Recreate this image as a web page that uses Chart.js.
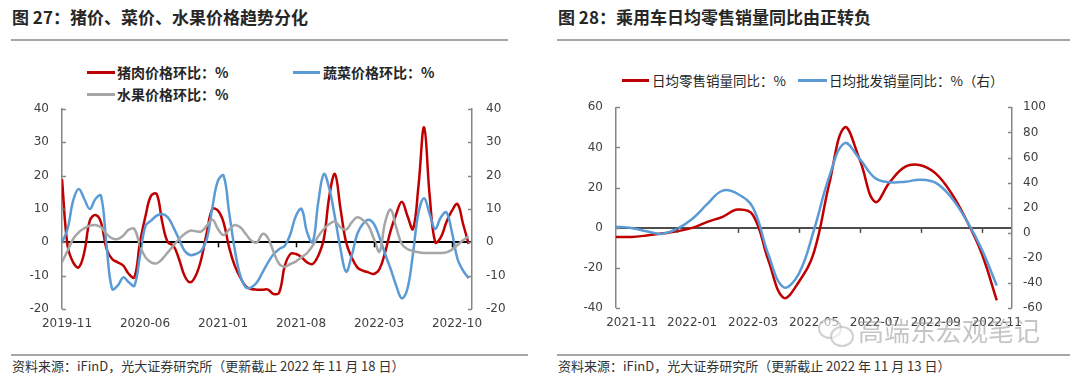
<!DOCTYPE html>
<html><head><meta charset="utf-8">
<script src="https://cdn.jsdelivr.net/npm/chart.js@4.4.1/dist/chart.umd.min.js"></script>
<style>
body{margin:0;width:1080px;height:380px;background:#fff;position:relative;overflow:hidden;font-family:"Noto Sans CJK SC","Noto Sans",sans-serif;color:#222;}
.title{position:absolute;top:7px;font-size:17px;line-height:20px;font-weight:bold;color:#262626;white-space:nowrap;}
.rule{position:absolute;height:2px;background:#a6a6a6;}
.src{position:absolute;top:358px;font-size:13px;line-height:16px;color:#333;white-space:nowrap;}
.leg{position:absolute;white-space:nowrap;color:#262626;}
.leg i{position:absolute;height:3px;top:50%;margin-top:-1.5px;}
.cv{position:absolute;top:100px;width:540px;height:240px;}
.cv canvas{display:block;}
.wm{position:absolute;left:858px;top:315px;font-size:26px;line-height:30px;color:rgba(150,150,150,0.55);white-space:nowrap;}
.ic{position:absolute;border:2px solid rgba(150,150,150,0.45);border-radius:50%;background:rgba(255,255,255,0.6);}
</style></head>
<body>
<div class="title" style="left:12px">图 27：猪价、菜价、水果价格趋势分化</div>
<div class="title" style="left:558px">图 28：乘用车日均零售销量同比由正转负</div>
<div class="rule" style="left:11px;width:497px;top:39px"></div>
<div class="rule" style="left:557px;width:513px;top:39px"></div>
<div id="legL"></div>
<div id="legR"></div>
<div class="cv" style="left:0"><canvas id="c1" width="540" height="240"></canvas></div>
<div class="cv" style="left:540px"><canvas id="c2" width="540" height="240"></canvas></div>
<div class="rule" style="left:11px;width:517px;top:354px"></div>
<div class="rule" style="left:557px;width:513px;top:354px"></div>
<div class="src" style="left:12px">资料来源：iFinD，光大证券研究所（更新截止 2022 年 11 月 18 日）</div>
<div class="src" style="left:558px">资料来源：iFinD，光大证券研究所（更新截止 2022 年 11 月 13 日）</div>
<div class="ic" style="left:818px;top:318px;width:20px;height:17px"></div>
<div class="ic" style="left:830px;top:326px;width:20px;height:17px"></div>
<div class="wm">高端东宏观笔记</div>
<script>
// ---------- Chart 27 data (readings every half month from 2019-11) ----------
const leftMonthLabels = ['2019-11','2020-06','2021-01','2021-08','2022-03','2022-10'];
const leftLabelGap = 7;      // months between shown labels
const leftSampleStep = 0.5;  // months between readings
const porkMoM = [19,-1,-6,-7.5,-3,6.5,8.2,6,-2,-5,-6,-7,-9.5,-10.5,0,8,14,14.5,6,0,
  -1,-5,-10,-12,-10,-5,3,10,9.5,6,-1.5,-7,-10.5,-13.2,-14,-14.2,-14.2,-14.2,-15.5,-15,
  -7,-3.5,-3.5,-4.5,-6,-6.5,-4,1,14,20.5,10,0,-4.5,-7.5,-8.5,-9,-9.5,-8,-3,3.5,
  8.5,12.2,8,4,17,34.5,14,0,1.5,6,9.5,11.5,5.5,-0.5];
const vegMoM = [0,4,12.5,16,13,10,13,14,-1,-14,-13,-10.5,-12,-13,-4,5,6.5,8,8.5,7.5,
  4.5,1,-2.5,-3.8,-3.5,-2.5,1,10.5,18.5,20,9,-2,-10,-13.5,-13.5,-12,-9,-6,-3.5,-2,
  -1,2.5,8,10,3,0,12,20.5,16,7.5,-2,-8.8,-4,2.5,5.5,6.8,5.5,1.5,-3.5,-8,
  -13,-16.8,-14,-3.5,9,13.2,8.5,4,7.5,9,3,-5,-8.5,-10.8];
const fruitMoM = [-6,-2.5,1,3,4.2,5,5.2,4.5,2.5,1.2,1,2,3.8,4,-1,-4.5,-6,-6.3,-5,-3,
  -1,1,2.5,3.5,3.3,3.3,5,6.8,4,2.2,3.8,5.2,4.5,2.5,0.5,0,2.5,1.2,-3,-6.5,
  -7.3,-6.5,-5.7,-4.5,-3.2,-1,1.8,4,5.5,6.2,4.5,3.8,6,7.5,6.7,5,1,-2.8,6,9.8,
  4.5,-0.5,-2,-2.6,-3,-3.2,-3.2,-3.2,-3.2,-3,-2.2,-0.8,0.6,1.8];
const leftNames = ['猪肉价格环比：%','蔬菜价格环比：%','水果价格环比：%'];
const leftColors = ['#C00000','#5B9BD5','#A6A6A6'];

// ---------- Chart 28 data (readings every half month from 2021-11) ----------
const rightMonthLabels = ['2021-11','2022-01','2022-03','2022-05','2022-07','2022-09','2022-11'];
const rightLabelGap = 2;
const rightSampleStep = 0.5;
const retailYoY = [-4.5,-4.5,-3.8,-2.8,-1.7,0,3,5.5,9.1,6.3,-16,-34.7,-26.9,-12,22,50,34,13,23,30.5,31.2,27,17.5,4,-12.5,-36];
const wholesaleYoY = [5,4,1.3,-0.8,3.2,11.1,23.1,33.7,31,20,-17,-43.2,-32.6,2.5,44.8,71.4,58.9,43.8,40.3,40.8,42.4,39.8,28.4,10.3,-12.7,-41.9];
const rightNames = ['日均零售销量同比：%','日均批发销量同比：%（右）'];
const rightColors = ['#C00000','#5B9BD5'];

const toXY = (arr, step) => arr.map((v, i) => ({x: i * step, y: v}));
const tickFont = {family: 'DejaVu Sans', size: 12};
const tickColor = '#404040';
const axisGray = '#868686';
const clear = 'rgba(0,0,0,0)';

// legends (HTML text)
function legend(el, items) {
  document.getElementById(el).innerHTML = items.map(it =>
    `<div class="leg" style="left:${it.x}px;top:${it.y}px;font-size:${it.fs}px;line-height:18px;font-weight:${it.fw};padding-left:${it.pl}px">` +
    `<i style="left:0;width:${it.w}px;background:${it.c}"></i>${it.t}</div>`).join('');
}
legend('legL', [
  {x:87, y:63, fs:14, fw:600, pl:30, w:28, c:leftColors[0], t:leftNames[0]},
  {x:293, y:63, fs:14, fw:600, pl:30, w:27, c:leftColors[1], t:leftNames[1]},
  {x:87, y:85, fs:14, fw:600, pl:30, w:28, c:leftColors[2], t:leftNames[2]},
]);
legend('legR', [
  {x:622, y:71, fs:13.5, fw:400, pl:30, w:27, c:rightColors[0], t:rightNames[0]},
  {x:798, y:71, fs:13.5, fw:400, pl:31, w:29, c:rightColors[1], t:rightNames[1]},
]);

const axisDecor = {
  id: 'axisDecor',
  afterDraw(chart, args, o) {
    const ctx = chart.ctx;
    ctx.save();
    ctx.lineWidth = 1.5;
    ctx.strokeStyle = o.axisColor;
    ['y', 'y2'].forEach(id => {
      const s = chart.scales[id];
      const ax = id === 'y' ? s.right : s.left;
      const dir = id === 'y' ? 1 : -1;
      s.ticks.forEach(t => {
        const py = Math.round(s.getPixelForValue(t.value)) + 0.5;
        ctx.beginPath(); ctx.moveTo(ax, py); ctx.lineTo(ax + dir * 4, py); ctx.stroke();
      });
    });
    const zy = chart.scales.y.getPixelForValue(0);
    ctx.strokeStyle = o.zeroColor;
    o.marks.forEach(v => {
      const px = Math.round(chart.scales.x.getPixelForValue(v)) + 0.5;
      ctx.beginPath(); ctx.moveTo(px, zy); ctx.lineTo(px, zy + 5); ctx.stroke();
    });
    ctx.restore();
  }
};

function yAxis(pos, min, max, step, width, gap, zeroColor) {
  return {
    position: pos, min, max,
    afterFit: s => { s.width = width; },
    ticks: {stepSize: step, color: tickColor, font: tickFont, padding: 0},
    grid: {
      drawTicks: true, tickLength: gap, tickColor: clear,
      drawOnChartArea: !!zeroColor,
      color: c => zeroColor && c.tick && c.tick.value === 0 ? zeroColor : clear,
      lineWidth: c => zeroColor && c.tick && c.tick.value === 0 ? 2 : 0
    },
    border: {display: true, color: axisGray, width: 1.5}
  };
}

function xAxis(labels, gap, first, max, height, pad, labelOffset) {
  return {
    type: 'linear', min: 0, max,
    afterFit: s => { s.height = height; },
    afterBuildTicks: s => { s.ticks = labels.map((_, i) => ({value: first + i * gap})); },
    ticks: {autoSkip: false, maxRotation: 0, color: tickColor, font: tickFont, padding: pad,
      labelOffset, callback: (v, i) => labels[i]},
    grid: {display: false, drawTicks: false},
    border: {display: false}
  };
}

const baseDs = (label, data, color, order, yID) => ({
  label, data, borderColor: color, backgroundColor: color, borderWidth: 2.5,
  pointRadius: 0, tension: 0.4, order, yAxisID: yID, fill: false
});

new Chart(document.getElementById('c1'), {
  type: 'line',
  data: {datasets: [
    baseDs(leftNames[0], toXY(porkMoM, leftSampleStep), leftColors[0], 3, 'y'),
    baseDs(leftNames[1], toXY(vegMoM, leftSampleStep), leftColors[1], 2, 'y'),
    baseDs(leftNames[2], toXY(fruitMoM, leftSampleStep), leftColors[2], 1, 'y'),
  ]},
  options: {
    responsive: false, animation: false,
    layout: {padding: {left: 0, right: 28, top: 9, bottom: 0}},
    scales: {
      x: xAxis(leftMonthLabels, leftLabelGap, 0, 36.8, 31, 8, 5),
      y: yAxis('left', -20, 40, 10, 62, 13, '#000000'),
      y2: yAxis('right', -20, 40, 10, 40, 14, null)
    },
    plugins: {legend: {display: false}, tooltip: {enabled: false},
      axisDecor: {axisColor: axisGray, zeroColor: '#000000',
        marks: leftMonthLabels.map((_, i) => i * leftLabelGap).filter(v => v > 0)}}
  },
  plugins: [axisDecor]
});

new Chart(document.getElementById('c2'), {
  type: 'line',
  data: {datasets: [
    baseDs(rightNames[0], toXY(retailYoY, rightSampleStep), rightColors[0], 2, 'y'),
    baseDs(rightNames[1], toXY(wholesaleYoY, rightSampleStep), rightColors[1], 1, 'y2'),
  ]},
  options: {
    responsive: false, animation: false,
    layout: {padding: {left: 0, right: 18, top: 7.3, bottom: 0}},
    scales: {
      x: xAxis(rightMonthLabels, rightLabelGap, 0.5, 13, 31.7, 7, 0),
      y: yAxis('left', -40, 60, 20, 76, 13, '#4d4d4d'),
      y2: yAxis('right', -60, 100, 20, 50, 11, null)
    },
    plugins: {legend: {display: false}, tooltip: {enabled: false},
      axisDecor: {axisColor: axisGray, zeroColor: '#4d4d4d',
        marks: rightMonthLabels.map((_, i) => i * rightLabelGap).filter(v => v > 0)}}
  },
  plugins: [axisDecor]
});
</script>
</body></html>
